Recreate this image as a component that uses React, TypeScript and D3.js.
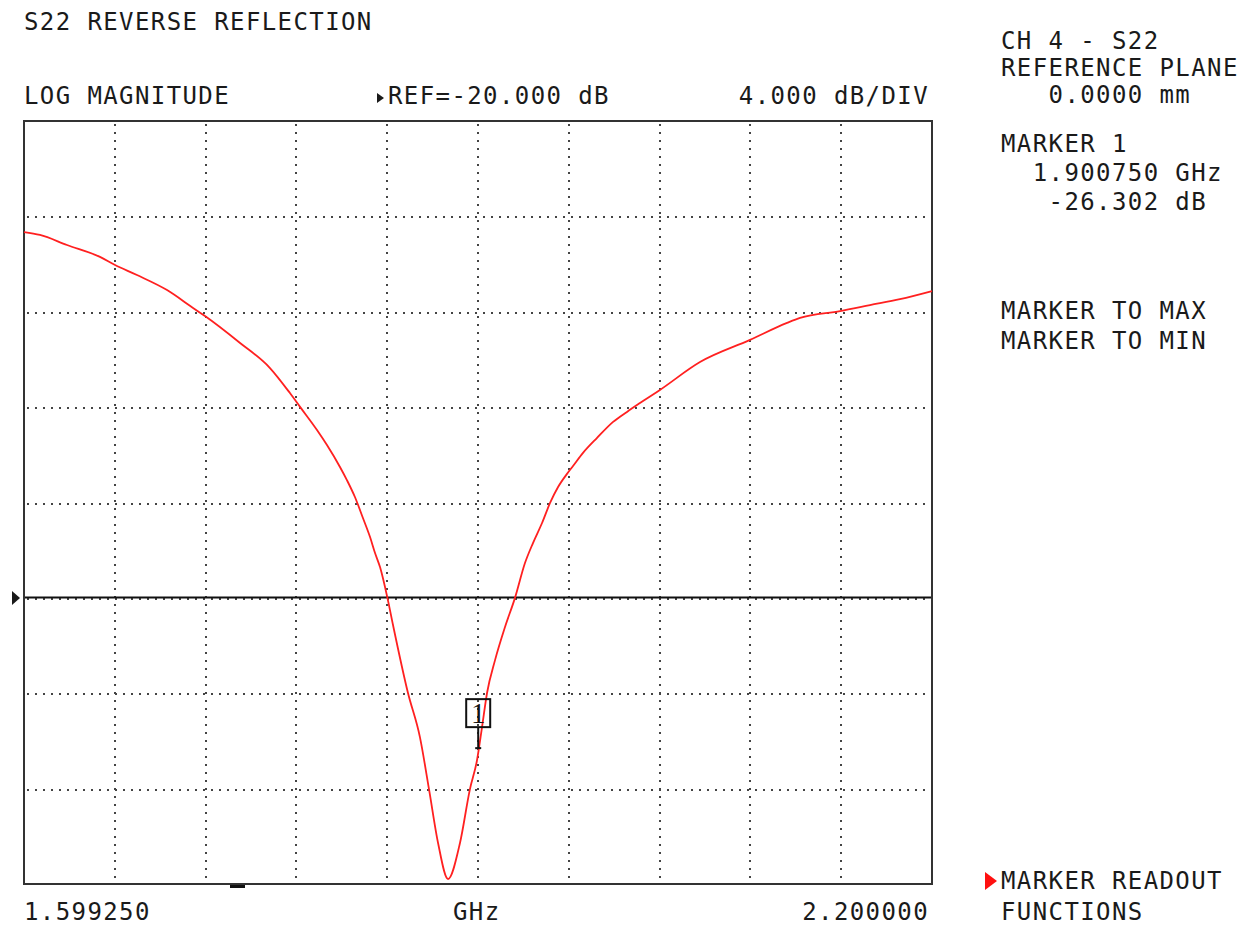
import * as d3 from "d3";

// S22 trace
const freqMHz = [
  1599.25, 1609.8, 1627.7, 1649.5, 1659.5, 1674.0, 1693.9, 1711.1, 1719.0, 1742.2,
  1762.0, 1775.2, 1781.9, 1793.1, 1799.7, 1808.3, 1812.9, 1818.2, 1823.5, 1828.2,
  1831.5, 1834.8, 1839.7, 1843.4, 1853.3, 1861.2, 1867.2, 1873.2, 1879.8,
  1887.7, 1894.3, 1899.0, 1902.3, 1905.6, 1910.9, 1917.5, 1924.1, 1930.7,
  1936.0, 1942.0, 1947.3, 1952.6, 1958.5, 1962.5, 1969.1, 1978.4, 1989.0, 1998.2,
  2006.8, 2020.0, 2046.5, 2079.6, 2104.1, 2112.7, 2139.2, 2159.0, 2178.8, 2200.0,
];
const s22dB = [
  -4.66, -4.78, -5.2, -5.7, -6.04, -6.46, -7.09, -7.84, -8.18, -9.31,
  -10.36, -11.41, -11.99, -12.96, -13.59, -14.51, -15.06, -15.77, -16.65, -17.45,
  -18.12, -18.71, -20.0, -21.14, -23.99, -25.84, -28.02, -30.28, -31.79,
  -30.28, -28.02, -26.8, -25.42, -23.99, -22.61, -21.22, -20.0, -18.54,
  -17.7, -16.86, -16.02, -15.35, -14.8, -14.47, -13.92, -13.29, -12.62, -12.2,
  -11.83, -11.28, -10.11, -9.18, -8.47, -8.26, -7.97, -7.72, -7.47, -7.13,
];

const startMHz = 1599.25;
const stopMHz = 2200.0;
const refDb = -20;
const dbPerDiv = 4;
const refDiv = 5; // divisions from top to reference line
const yDivs = 8;
const xDivs = 10;

const marker = { freq: 1900.75, db: -26.302 };

const headerLeft = ["S22 REVERSE REFLECTION"];
const sideTop = ["CH 4 - S22", "REFERENCE PLANE", "   0.0000 mm"];
const sideMarker = ["MARKER 1", "  1.900750 GHz", "   -26.302 dB"];
const softkeys = ["MARKER TO MAX", "MARKER TO MIN"];
const bottomKeys = ["MARKER READOUT", "FUNCTIONS"];

const W = 1256;
const H = 925;
const L = 24, R = 932, T = 121, B = 884;

const font = "'DejaVu Sans Mono', 'Liberation Mono', monospace";
const txt = "#1a1a1a";

export default function App() {
  const topDb = refDb + refDiv * dbPerDiv;
  const botDb = topDb - yDivs * dbPerDiv;
  const x = d3.scaleLinear().domain([startMHz, stopMHz]).range([L, R]);
  const y = d3.scaleLinear().domain([botDb, topDb]).range([B, T]);

  const xGrid = d3.range(1, xDivs).map((i) => startMHz + (i * (stopMHz - startMHz)) / xDivs);
  const yGrid = d3.range(1, yDivs).map((i) => topDb - i * dbPerDiv);

  const line = d3
    .line<number>()
    .x((_, i) => x(freqMHz[i]))
    .y((d) => y(d))
    .curve(d3.curveMonotoneX);

  const mx = x(marker.freq) - 1.5;
  const my = y(marker.db);
  const yRef = y(refDb);

  const T1 = (props: any) => (
    <text
      fontFamily={font}
      fontSize={24}
      letterSpacing={1.4}
      fill={txt}
      xmlSpace="preserve"
      style={{ whiteSpace: "pre" }}
      {...props}
    />
  );

  return (
    <div style={{ position: "fixed", left: 0, top: 0 }}>
      <svg width={W} height={H} style={{ display: "block", background: "#fff" }}>
        {/* header */}
        {headerLeft.map((s) => (
          <T1 key={s} x={24} y={30}>{s}</T1>
        ))}
        <T1 x={24} y={104}>LOG MAGNITUDE</T1>
        <path d="M377,93 L384,98 L377,103 Z" fill={txt} />
        <T1 x={388} y={104}>REF=-20.000 dB</T1>
        <T1 x={929} y={104} textAnchor="end">4.000 dB/DIV</T1>

        {/* grid */}
        {xGrid.map((f) => (
          <line key={"gx" + f} x1={Math.round(x(f))} x2={Math.round(x(f))} y1={T + 3} y2={B}
            stroke="#444" strokeWidth={2} strokeDasharray="2 6" />
        ))}
        {yGrid.map((v) => (
          <line key={"gy" + v} x1={L + 3} x2={R} y1={Math.round(y(v)) + 1} y2={Math.round(y(v)) + 1}
            stroke="#444" strokeWidth={2} strokeDasharray="2 6" />
        ))}
        {/* reference line */}
        <line x1={L} x2={R} y1={yRef - 0.5} y2={yRef - 0.5} stroke="#111" strokeWidth={2} />
        <path d={`M12,${yRef - 7} L20,${yRef} L12,${yRef + 7} Z`} fill={txt} />

        {/* frame */}
        <rect x={L} y={T} width={R - L} height={B - T} fill="none" stroke="#333" strokeWidth={2} />
        <rect x={230} y={B + 1} width={15} height={3} fill="#111" />

        {/* trace */}
        <path d={line(s22dB) ?? ""} fill="none" stroke="#ff2020" strokeWidth={1.8} />

        {/* marker */}
        <rect x={mx - 12} y={my - 49} width={24} height={28} fill="none" stroke="#111" strokeWidth={2} />
        <text x={mx} y={my - 25} textAnchor="middle" fontFamily="'Liberation Serif', serif" fontSize={29} fill="#111">1</text>
        <line x1={mx} x2={mx} y1={my - 21} y2={my} stroke="#111" strokeWidth={2} />
        <line x1={mx - 3} x2={mx + 3} y1={my} y2={my} stroke="#111" strokeWidth={2} />

        {/* bottom axis labels */}
        <T1 x={24} y={920}>1.599250</T1>
        <T1 x={453} y={920}>GHz</T1>
        <T1 x={929} y={920} textAnchor="end">2.200000</T1>

        {/* side panel */}
        {sideTop.map((s, i) => (
          <T1 key={s} x={1001} y={[49, 76, 103][i]}>{s}</T1>
        ))}
        {sideMarker.map((s, i) => (
          <T1 key={s} x={1001} y={[152, 181, 210][i]}>{s}</T1>
        ))}
        {softkeys.map((s, i) => (
          <T1 key={s} x={1001} y={319 + i * 30}>{s}</T1>
        ))}
        <path d="M985,872 L997,881 L985,890 Z" fill="#ff1010" />
        {bottomKeys.map((s, i) => (
          <T1 key={s} x={1001} y={889 + i * 31}>{s}</T1>
        ))}
      </svg>
    </div>
  );
}
